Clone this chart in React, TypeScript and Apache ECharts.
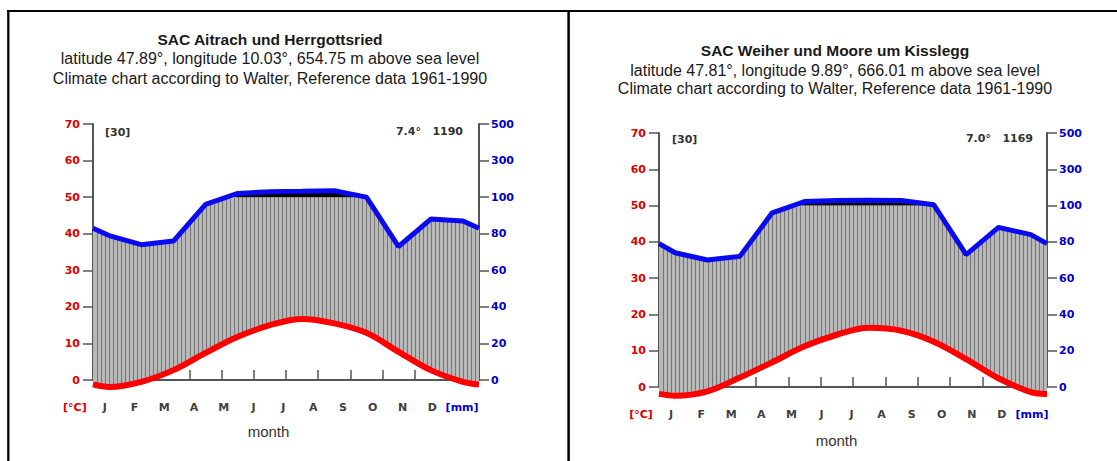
import React, { useEffect, useRef } from "react";
import * as echarts from "echarts";

// ---- data ----
const monthLabels = ["J", "F", "M", "A", "M", "J", "J", "A", "S", "O", "N", "D"];
const axisLabelRow = ["[°C]", ...monthLabels, "[mm]"];

// SAC Aitrach und Herrgottsried
const tempAitrach = [-1.9, -0.5, 2.7, 7.4, 11.8, 15.0, 16.7, 15.5, 12.9, 7.7, 2.7, -0.5];
const precAitrach = [79, 74, 76, 96, 120, 130, 132, 135, 100, 73, 88, 87];

// SAC Weiher und Moore um Kisslegg
const tempKisslegg = [-2.4, -1.2, 2.6, 6.8, 11.2, 14.4, 16.3, 15.5, 12.5, 7.7, 2.4, -1.4];
const precKisslegg = [74, 70, 72, 96, 122, 128, 130, 128, 104, 73, 88, 84];

const titlesAitrach = [
  "SAC Aitrach und Herrgottsried",
  "latitude 47.89°, longitude 10.03°, 654.75 m above sea level",
  "Climate chart according to Walter, Reference data 1961-1990",
];
const titlesKisslegg = [
  "SAC Weiher und Moore um Kisslegg",
  "latitude 47.81°, longitude 9.89°, 666.01 m above sea level",
  "Climate chart according to Walter, Reference data 1961-1990",
];
const infoAitrach = { years: "[30]", mean: "7.4°", total: "1190" };
const infoKisslegg = { years: "[30]", mean: "7.0°", total: "1169" };

// Walter scale: 1 °C = 2 mm up to 100 mm, above that 1 °C = 20 mm
const scalePrec = (mm: number) => (mm <= 100 ? mm / 2 : 50 + (mm - 100) / 20);
const precLabel = (v: number) => String(v <= 50 ? v * 2 : 100 + (v - 50) * 20);

// month centres plus year-wrapping edge points
function withEdges(vals: number[]) {
  const edge = (vals[0] + vals[vals.length - 1]) / 2;
  return [edge, ...vals, edge];
}
const xs = [0, ...monthLabels.map((_, i) => i + 0.5), 12];

function interp(x: number, xv: number[], yv: number[]) {
  for (let i = 0; i < xv.length - 1; i++) {
    if (x >= xv[i] && x <= xv[i + 1]) {
      const f = (x - xv[i]) / (xv[i + 1] - xv[i]);
      return yv[i] + f * (yv[i + 1] - yv[i]);
    }
  }
  return yv[yv.length - 1];
}

function makeFill(t: number[], p: number[]) {
  return (params: any, api: any) => {
    if (params.dataIndex !== 0) return null;
    const top = p.map((v) => Math.min(v, 50));
    const lower = xs.map((x, i) => api.coord([x, t[i]]));
    const upper = xs.map((x, i) => api.coord([x, top[i]])).reverse();
    const children: any[] = [
      { type: "polygon", shape: { points: lower.concat(upper) }, style: { fill: "#b8b8b8" } },
    ];
    const N = 96;
    for (let k = 1; k < N; k++) {
      const x = (k * 12) / N;
      const a = api.coord([x, interp(x, xs, t)]);
      const b = api.coord([x, interp(x, xs, top)]);
      const px = Math.round(a[0]) + 0.5;
      children.push({
        type: "line",
        shape: { x1: px, y1: a[1], x2: px, y2: b[1] },
        style: { stroke: "#767676", lineWidth: 1 },
      });
    }
    // perhumid part (> 100 mm) in black
    const blk: number[][] = [api.coord([0, 50])];
    for (let i = 0; i < xs.length; i++) {
      blk.push(api.coord([xs[i], Math.max(p[i], 50)]));
      if (i < xs.length - 1 && (p[i] - 50) * (p[i + 1] - 50) < 0) {
        const xc = xs[i] + ((50 - p[i]) / (p[i + 1] - p[i])) * (xs[i + 1] - xs[i]);
        blk.push(api.coord([xc, 50]));
      }
    }
    blk.push(api.coord([12, 50]));
    children.push({ type: "polygon", shape: { points: blk }, style: { fill: "#000" } });
    return { type: "group", children };
  };
}

const smallFont = "DejaVu Sans";
const titleFont = "Liberation Sans";

export default function App() {
  const ref = useRef<HTMLDivElement>(null);
  useEffect(() => {
    if (!ref.current) return;
    const chart = echarts.init(ref.current, null, { renderer: "svg" });

    const panels = [
      {
        temp: tempAitrach, prec: precAitrach, titles: titlesAitrach, info: infoAitrach,
        grid: { left: 93, top: 124, width: 386, height: 256 },
        labelGrid: { left: 60, top: 370, width: 417, height: 10 },
        titleX: 270, titleTops: [31, 50, 70], nameGap: 44,
        yearsPos: [105, 132], infoRight: [463, 131],
      },
      {
        temp: tempKisslegg, prec: precKisslegg, titles: titlesKisslegg, info: infoKisslegg,
        grid: { left: 659, top: 133, width: 388, height: 254 },
        labelGrid: { left: 626, top: 377, width: 421, height: 10 },
        titleX: 835, titleTops: [42, 62, 80], nameGap: 46,
        yearsPos: [672, 139], infoRight: [1033, 138],
      },
    ];

    const grids: any[] = [];
    const xAxes: any[] = [];
    const yAxes: any[] = [];
    const series: any[] = [];
    const titles: any[] = [];
    const graphics: any[] = [];

    panels.forEach((pn) => {
      const t = withEdges(pn.temp);
      const p = withEdges(pn.prec.map(scalePrec));
      const gMain = grids.length;
      grids.push({ ...pn.grid, containLabel: false });
      const gLab = grids.length;
      grids.push({ ...pn.labelGrid, containLabel: false });

      const xMain = xAxes.length;
      xAxes.push({
        type: "value", gridIndex: gMain, min: 0, max: 12, interval: 1,
        axisLine: { show: true, onZero: true, lineStyle: { color: "#555", width: 2 } },
        axisTick: { show: true, inside: true, length: 10, lineStyle: { color: "#555", width: 1.5 } },
        axisLabel: { show: false }, splitLine: { show: false },
      });
      xAxes.push({
        type: "category", gridIndex: gLab, boundaryGap: true,
        data: axisLabelRow.map((_, i) => String(i)),
        axisLine: { show: false }, axisTick: { show: false }, splitLine: { show: false },
        axisLabel: {
          interval: 0, margin: 22,
          formatter: (_v: string, i: number) => {
            const s = axisLabelRow[i];
            if (i === 0) return "{r|" + s + "}";
            if (i === axisLabelRow.length - 1) return "{b|" + s + "}";
            return "{m|" + s + "}";
          },
          rich: {
            r: { color: "#dd0000", fontWeight: "bold", fontSize: 11, fontFamily: smallFont },
            b: { color: "#0000cc", fontWeight: "bold", fontSize: 11, fontFamily: smallFont },
            m: { color: "#404040", fontWeight: "bold", fontSize: 11, fontFamily: smallFont },
          },
        },
        name: "month", nameLocation: "middle", nameGap: pn.nameGap,
        nameTextStyle: { color: "#333", fontSize: 15, fontFamily: titleFont },
      });

      const yLeft = yAxes.length;
      yAxes.push({
        type: "value", gridIndex: gMain, min: 0, max: 70, interval: 10, position: "left",
        axisLine: { show: true, lineStyle: { color: "#555", width: 2 } },
        axisTick: { show: true, length: 10, lineStyle: { color: "#555", width: 1.5 } },
        axisLabel: { color: "#dd0000", fontWeight: "bold", fontSize: 11, fontFamily: smallFont, margin: 13 },
        splitLine: { show: false },
      });
      yAxes.push({
        type: "value", gridIndex: gMain, min: 0, max: 70, interval: 10, position: "right",
        axisLine: { show: true, lineStyle: { color: "#555", width: 2 } },
        axisTick: { show: true, length: 10, lineStyle: { color: "#555", width: 1.5 } },
        axisLabel: {
          color: "#0000cc", fontWeight: "bold", fontSize: 11, fontFamily: smallFont, margin: 12,
          formatter: (v: number) => precLabel(v),
        },
        splitLine: { show: false },
      });
      yAxes.push({ type: "value", gridIndex: gLab, show: false });

      series.push({
        type: "custom", xAxisIndex: xMain, yAxisIndex: yLeft, silent: true, z: 1, clip: false,
        data: [[0, 0]], renderItem: makeFill(t, p),
      });
      series.push({
        type: "line", xAxisIndex: xMain, yAxisIndex: yLeft, z: 3, symbol: "none", silent: true,
        clip: false, data: xs.map((x, i) => [x, p[i]]),
        lineStyle: { color: "#0a0af0", width: 5 },
      });
      series.push({
        type: "line", xAxisIndex: xMain, yAxisIndex: yLeft, z: 4, symbol: "none", silent: true,
        clip: false, smooth: 0.35, data: xs.map((x, i) => [x, t[i]]),
        lineStyle: { color: "#ff0000", width: 6 },
      });

      pn.titles.forEach((txt, li) => {
        titles.push({
          text: txt, left: pn.titleX, top: pn.titleTops[li], textAlign: "center", padding: 0,
          textStyle: {
            fontFamily: titleFont, fontSize: li === 0 ? 15.5 : 16,
            fontWeight: li === 0 ? "bold" : "normal", color: "#1a1a1a",
          },
        });
      });

      graphics.push({
        type: "text", x: pn.yearsPos[0], y: pn.yearsPos[1],
        style: {
          text: pn.info.years, fill: "#333", font: `bold 11px "${smallFont}"`,
          textAlign: "left", textVerticalAlign: "middle", align: "left", verticalAlign: "middle",
        },
      });
      graphics.push({
        type: "text", x: pn.infoRight[0], y: pn.infoRight[1],
        style: {
          text: pn.info.mean + "   " + pn.info.total, fill: "#333", font: `bold 11px "${smallFont}"`,
          textAlign: "right", textVerticalAlign: "middle", align: "right", verticalAlign: "middle",
        },
      });
    });

    // table borders
    graphics.push({ type: "line", shape: { x1: 7, y1: 11, x2: 1117, y2: 11 }, style: { stroke: "#000", lineWidth: 2 } });
    graphics.push({ type: "line", shape: { x1: 8.3, y1: 10, x2: 8.3, y2: 461 }, style: { stroke: "#000", lineWidth: 2.3 } });
    graphics.push({ type: "line", shape: { x1: 568.6, y1: 10, x2: 568.6, y2: 461 }, style: { stroke: "#000", lineWidth: 2.5 } });

    chart.setOption({
      animation: false,
      backgroundColor: "#fff",
      title: titles,
      grid: grids,
      xAxis: xAxes,
      yAxis: yAxes,
      series,
      graphic: graphics,
    });
    return () => chart.dispose();
  }, []);

  return (
    <div
      ref={ref}
      style={{ position: "fixed", left: 0, top: 0, width: 1117, height: 461, background: "#fff" }}
    />
  );
}
